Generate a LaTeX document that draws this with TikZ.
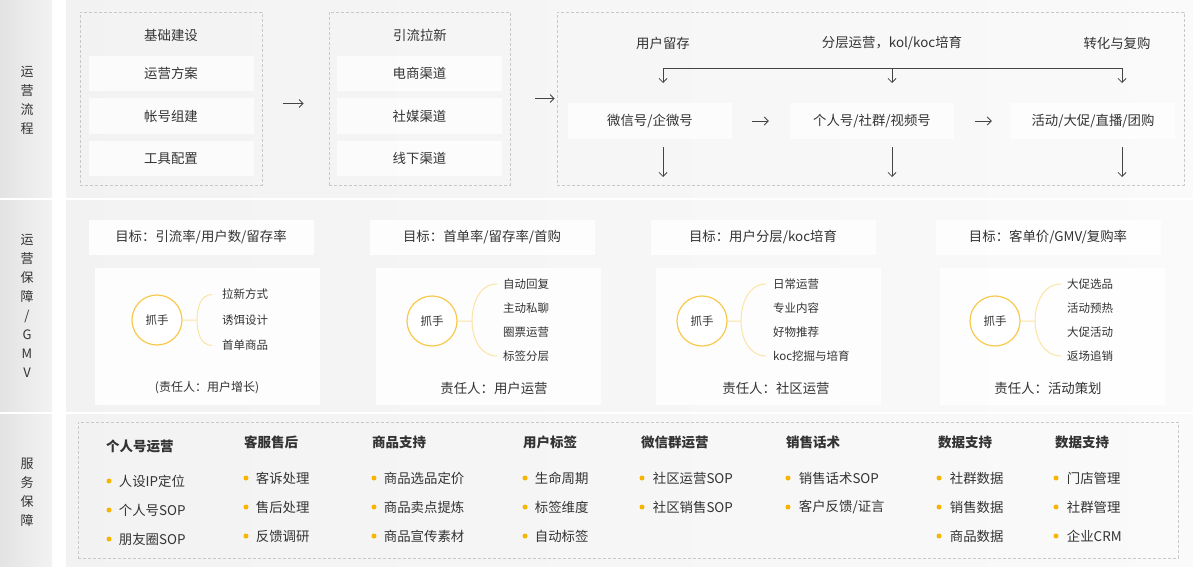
\documentclass[tikz,border=0pt]{standalone}
\usepackage{fontspec}
\setmainfont{Noto Sans CJK SC}
\usepackage{xcolor}
\usepackage{tikz}
\usetikzlibrary{arrows.meta,positioning}

\definecolor{inkgray}{HTML}{333333}
\definecolor{linegray}{HTML}{444444}
\definecolor{dashgray}{HTML}{C8C8C8}
\definecolor{ringgold}{HTML}{F8C94A}
\definecolor{palegold}{HTML}{FCE4A4}
\definecolor{dotgold}{HTML}{F7B500}

\tikzset{
  txt/.style={text=inkgray, inner sep=0pt, font=\fontsize{13.4}{16}\selectfont},
  sidetxt/.style={align=center, text=inkgray, inner sep=0pt, font=\fontsize{13}{19}\selectfont},
  dashbox/.style={draw=dashgray, dash pattern=on 3pt off 2pt, line width=0.8pt, inner sep=0pt},
  stagebox/.style={txt, fill=white, fill opacity=0.7, text opacity=1, minimum height=35pt},
  goalbox/.style={txt, fill=white, fill opacity=0.85, text opacity=1, minimum width=225pt, minimum height=35pt},
  cardbox/.style={fill=white, fill opacity=0.85, inner sep=0pt, minimum width=225pt, minimum height=137pt},
  grip/.style={circle, draw=ringgold, line width=1.2pt, fill=white, minimum size=50pt, inner sep=0pt, text=inkgray, font=\fontsize{11.5}{13}\selectfont},
  pointtxt/.style={txt, anchor=west, font=\fontsize{11.5}{13}\selectfont},
  clampline/.style={draw=palegold, line width=1pt},
  headtxt/.style={txt, anchor=west, font=\fontsize{13.5}{16}\selectfont\bfseries},
  itemtxt/.style={txt, font=\fontsize{13.4}{16}\selectfont},
  dot/.style={circle, fill=dotgold, minimum size=5pt, inner sep=0pt},
  arr/.style={draw=linegray, line width=0.8pt, -{Straight Barb[length=4pt,width=8pt]}},
  thinline/.style={draw=linegray, line width=0.8pt}
}

\begin{document}
\begin{tikzpicture}[x=1pt,y=-1pt]
\useasboundingbox (0,0) rectangle (1193,567);

% panels
\shade[left color=black!11, right color=black!5] (0,0) rectangle (52,197);
\shade[left color=black!5, right color=black!2] (66,0) rectangle (1193,197);
\shade[left color=black!11, right color=black!5] (0,200) rectangle (52,411);
\shade[left color=black!5, right color=black!2] (66,200) rectangle (1193,411);
\shade[left color=black!11, right color=black!5] (0,414) rectangle (52,567);
\shade[left color=black!5, right color=black!2] (66,414) rectangle (1193,567);

\node[sidetxt] (side1) at (27,100) {运\\营\\流\\程};
\node[sidetxt] (side2) at (27,306) {运\\营\\保\\障\\/\\G\\M\\V};
\node[sidetxt] (side3) at (27,492) {服\\务\\保\\障};

% row 1
\node[dashbox, minimum width=182pt, minimum height=173pt] (base) at (171,98.5) {};
\node[txt] (baseT) at (171,35) {基础建设};
\foreach \t [count=\i] in {运营方案, 帐号组建, 工具配置}
  \node[stagebox, minimum width=165pt] (base\i) at (171,31+42.5*\i) {\t};

\node[dashbox, minimum width=181pt, minimum height=173pt] (flow) at (419.5,98.5) {};
\node[txt] (flowT) at (420,35) {引流拉新};
\foreach \t [count=\i] in {电商渠道, 社媒渠道, 线下渠道}
  \node[stagebox, minimum width=165pt] (flow\i) at (419.5,31+42.5*\i) {\t};

\node[dashbox, minimum width=627pt, minimum height=173pt] (ops) at (870.5,98.5) {};
\node[txt] (keep) at (663,43) {用户留存};
\node[txt] (layer) at (892,43) {分层运营，kol/koc培育};
\node[txt] (conv) at (1117,43) {转化与复购};
\node[stagebox, minimum width=164pt] (wx) at (650,121) {微信号/企微号};
\node[stagebox, minimum width=164pt] (grp) at (872,121) {个人号/社群/视频号};
\node[stagebox, minimum width=164pt] (promo) at (1093,121) {活动/大促/直播/团购};

\draw[arr, shorten <=21pt, shorten >=25pt] ([yshift=-5pt]base.east) -- ([yshift=-5pt]flow.west);
\draw[arr, shorten <=25pt, shorten >=2pt] (flow.east) -- (ops.west);
\draw[arr, shorten <=20pt, shorten >=21pt] (wx.east) -- (grp.west);
\draw[arr, shorten <=21pt, shorten >=19pt] (grp.east) -- (promo.west);

\foreach \x/\n in {663/l, 892/m, 1122/r}{
  \coordinate (b\n) at (\x,68);
  \coordinate (a\n) at (\x,83);
  \draw[arr] (b\n) -- (a\n);
  \coordinate (u\n) at (\x,147);
  \coordinate (v\n) at (\x,177);
  \draw[arr] (u\n) -- (v\n);
}
\draw[thinline] (bl) -- (br);

% row 2
\node[goalbox] (goal1) at (201,237) {目标：引流率/用户数/留存率};
\node[cardbox] (card1) at (207,336.5) {};
\node[grip] (grip1) at (157,320) {抓手};
\coordinate (j1) at (197,320);
\foreach \t [count=\i] in {拉新方式, 诱饵设计, 首单商品}
  \node[pointtxt] (it1\i) at (222,269+25.5*\i) {\t};
\draw[clampline] (grip1) -- (j1) ([xshift=-10pt]it11.west) to[out=180,in=90] (j1) to[out=-90,in=180] ([xshift=-10pt]it13.west);
\node[txt, font=\fontsize{12}{14}\selectfont] (own1) at (207,388) {(责任人：用户增长)};

\node[goalbox] (goal2) at (482,237) {目标：首单率/留存率/首购};
\node[cardbox] (card2) at (488,336.5) {};
\node[grip] (grip2) at (432,321) {抓手};
\coordinate (j2) at (472,321);
\foreach \t [count=\i] in {自动回复, 主动私聊, 圈票运营, 标签分层}
  \node[pointtxt] (it2\i) at (503,260+24*\i) {\t};
\draw[clampline] (grip2) -- (j2) ([xshift=-6pt]it21.west) to[out=180,in=90] (j2) to[out=-90,in=180] ([xshift=-6pt]it24.west);
\node[txt] (own2) at (494,388) {责任人：用户运营};

\node[goalbox] (goal3) at (763,237) {目标：用户分层/koc培育};
\node[cardbox] (card3) at (768,336.5) {};
\node[grip] (grip3) at (702,321) {抓手};
\coordinate (j3) at (741,321);
\foreach \t [count=\i] in {日常运营, 专业内容, 好物推荐, koc挖掘与培育}
  \node[pointtxt] (it3\i) at (773,260+24*\i) {\t};
\draw[clampline] (grip3) -- (j3) ([xshift=-7pt]it31.west) to[out=180,in=90] (j3) to[out=-90,in=180] ([xshift=-7pt]it34.west);
\node[txt] (own3) at (776,388) {责任人：社区运营};

\node[goalbox] (goal4) at (1048,237) {目标：客单价/GMV/复购率};
\node[cardbox] (card4) at (1052,336.5) {};
\node[grip] (grip4) at (995,321) {抓手};
\coordinate (j4) at (1035,321);
\foreach \t [count=\i] in {大促选品, 活动预热, 大促活动, 返场追销}
  \node[pointtxt] (it4\i) at (1067,260+24*\i) {\t};
\draw[clampline] (grip4) -- (j4) ([xshift=-6pt]it41.west) to[out=180,in=90] (j4) to[out=-90,in=180] ([xshift=-6pt]it44.west);
\node[txt] (own4) at (1048,388) {责任人：活动策划};

% row 3
\node[dashbox, minimum width=1100pt, minimum height=136pt] (svc) at (628,490) {};

\node[headtxt] (h1) at (106,446) {个人号运营};
\foreach \t [count=\i] in {人设IP定位, 个人号SOP, 朋友圈SOP}{
  \node[dot] (p1\i) at (109,452+29*\i) {};
  \node[itemtxt, right=7pt of p1\i] (q1\i) {\t};}

\node[headtxt] (h2) at (244,442) {客服售后};
\foreach \t [count=\i] in {客诉处理, 售后处理, 反馈调研}{
  \node[dot] (p2\i) at (246,449+29*\i) {};
  \node[itemtxt, right=7pt of p2\i] (q2\i) {\t};}

\node[headtxt] (h3) at (372,442) {商品支持};
\foreach \t [count=\i] in {商品选品定价, 商品卖点提炼, 商品宣传素材}{
  \node[dot] (p3\i) at (374,449+29*\i) {};
  \node[itemtxt, right=7pt of p3\i] (q3\i) {\t};}

\node[headtxt] (h4) at (523,442) {用户标签};
\foreach \t [count=\i] in {生命周期, 标签维度, 自动标签}{
  \node[dot] (p4\i) at (525,449+29*\i) {};
  \node[itemtxt, right=7pt of p4\i] (q4\i) {\t};}

\node[headtxt] (h5) at (641,442) {微信群运营};
\foreach \t [count=\i] in {社区运营SOP, 社区销售SOP}{
  \node[dot] (p5\i) at (642,449+29*\i) {};
  \node[itemtxt, right=8pt of p5\i] (q5\i) {\t};}

\node[headtxt] (h6) at (786,442) {销售话术};
\foreach \t [count=\i] in {销售话术SOP, 客户反馈/证言}{
  \node[dot] (p6\i) at (788,449+29*\i) {};
  \node[itemtxt, right=8pt of p6\i] (q6\i) {\t};}

\node[headtxt] (h7) at (938,442) {数据支持};
\foreach \t [count=\i] in {社群数据, 销售数据, 商品数据}{
  \node[dot] (p7\i) at (939,449+29*\i) {};
  \node[itemtxt, right=8pt of p7\i] (q7\i) {\t};}

\node[headtxt] (h8) at (1055,442) {数据支持};
\foreach \t [count=\i] in {门店管理, 社群管理, 企业CRM}{
  \node[dot] (p8\i) at (1056,449+29*\i) {};
  \node[itemtxt, right=8pt of p8\i] (q8\i) {\t};}

\end{tikzpicture}
\end{document}
